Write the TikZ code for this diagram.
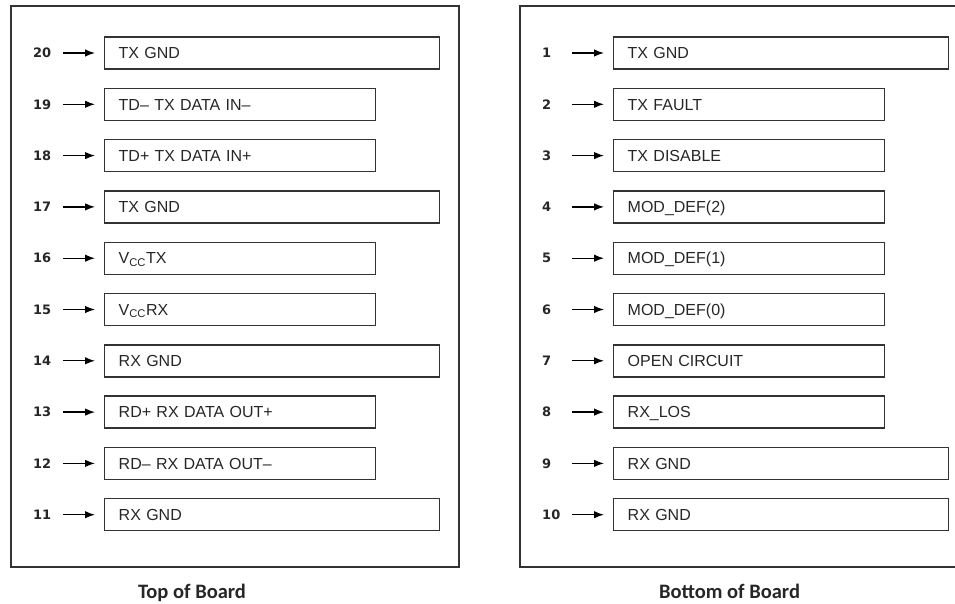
\documentclass[tikz,border=0pt]{standalone}
\usepackage{fontspec}
\setmainfont{Liberation Sans}
\newfontfamily\pinfont{DejaVu Sans}
\newfontfamily\capfont{Carlito}
\usetikzlibrary{arrows.meta}
\usetikzlibrary{positioning}

\tikzset{
    board/.style={draw=black!80, line width=1.6pt},
    pinbox/.style={draw=black!80, line width=1.4pt, anchor=west, minimum height=32pt,
        inner xsep=14pt, inner ysep=0pt, align=left, text=black!85,
        text height=14.5pt, text depth=3pt, font=\fontsize{16}{18}\selectfont},
    pinnum/.style={anchor=west, inner sep=0pt, text width=22pt, align=left, text=black!85,
        font=\pinfont\bfseries\fontsize{13}{15}\selectfont},
    pinarrow/.style={line width=1.3pt, -{Latex[length=10pt,width=7.5pt]}, shorten <=8pt, shorten >=9pt},
    boardcap/.style={anchor=base, text=black!85, font=\capfont\bfseries\fontsize{20.5}{24}\selectfont}
}

\begin{document}
\begin{tikzpicture}[x=1pt,y=-1pt]
        \useasboundingbox (0,0) rectangle (955,604);
        \draw[board] (11,6) rectangle (459,567);
        \draw[board] (955,6) -- (520,6) -- (520,567) -- (955,567);

        \foreach \n/\txt/\w [count=\i from 0] in {20/TX GND/307, 19/TD-- TX DATA IN--/243,
            18/TD+ TX DATA IN+/243, 17/TX GND/307, 16/V\textsubscript{CC}TX/243,
            15/V\textsubscript{CC}RX/243, 14/RX GND/307, 13/RD+ RX DATA OUT+/243,
            12/RD-- RX DATA OUT--/243, 11/RX GND/307}{
            \node[pinnum] (p\n) at (33,53+51.3*\i) {\n};
            \node[pinbox, text width=\w pt] (b\n) at (104,53+51.3*\i) {\txt};
            \draw[pinarrow] (p\n) -- (b\n);
        }

        \foreach \n/\txt/\w [count=\i from 0] in {1/TX GND/307, 2/TX FAULT/243,
            3/TX DISABLE/243, 4/MOD\_DEF(2)/243, 5/MOD\_DEF(1)/243, 6/MOD\_DEF(0)/243,
            7/OPEN CIRCUIT/243, 8/RX\_LOS/243, 9/RX GND/307, 10/RX GND/307}{
            \node[pinnum] (p\n) at (542,53+51.3*\i) {\n};
            \node[pinbox, text width=\w pt] (b\n) at (613,53+51.3*\i) {\txt};
            \draw[pinarrow] (p\n) -- (b\n);
        }

        \node[boardcap] (topcap) at (192,598) {Top of Board};
        \node[boardcap] (bottomcap) at (729.5,598) {Bottom of Board};
    \end{tikzpicture}
\end{document}
